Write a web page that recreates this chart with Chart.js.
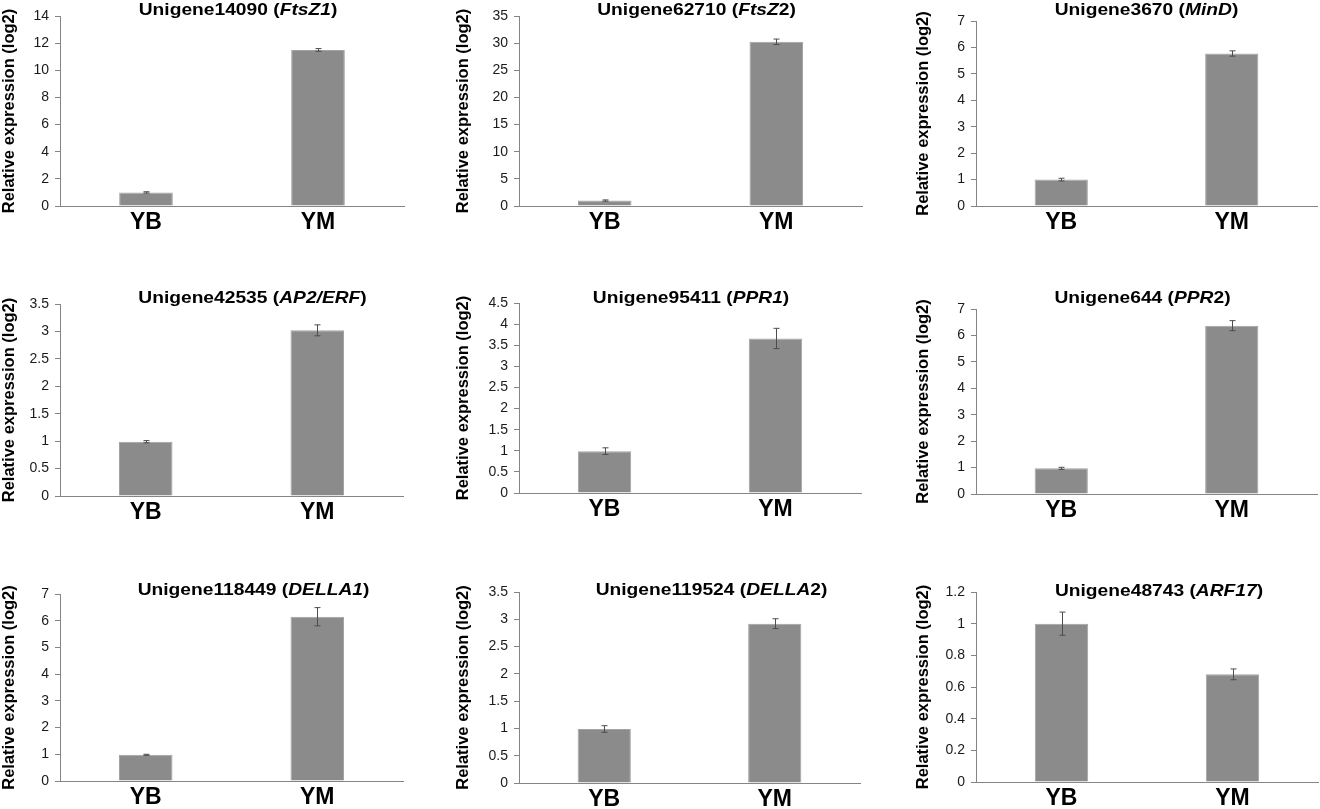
<!DOCTYPE html>
<html>
<head>
<meta charset="utf-8">
<script src="https://cdn.jsdelivr.net/npm/chart.js@4.4.0/dist/chart.umd.min.js"></script>
<style>
  html, body { margin: 0; padding: 0; background: #ffffff; }
  body { width: 1320px; height: 809px; position: relative; overflow: hidden; }
  canvas { position: absolute; }
</style>
</head>
<body>
<script>
// ---------------- DATA ----------------
const categories = ['YB', 'YM'];
const geneIds = ['Unigene14090', 'Unigene62710', 'Unigene3670', 'Unigene42535', 'Unigene95411', 'Unigene644', 'Unigene118449', 'Unigene119524', 'Unigene48743'];
const geneItalic = ['FtsZ1', 'FtsZ', 'MinD', 'AP2/ERF', 'PPR1', 'PPR', 'DELLA1', 'DELLA', 'ARF17'];
const geneSuffix = ['', '2', '', '', '', '2', '', '2', ''];
const valuesYB = [1.0, 1.0, 1.0, 0.99, 0.99, 0.97, 0.98, 0.99, 1.0];
const valuesYM = [11.5, 30.25, 5.77, 3.02, 3.66, 6.37, 6.15, 2.92, 0.68];
const errorsYB = [0.05, 0.12, 0.05, 0.02, 0.08, 0.04, 0.02, 0.06, 0.073];
const errorsYM = [0.1, 0.5, 0.1, 0.1, 0.24, 0.19, 0.34, 0.09, 0.034];
const yMax = [14, 35, 7, 3.5, 4.5, 7, 7, 3.5, 1.2];
const yStep = [2, 5, 1, 0.5, 0.5, 1, 1, 0.5, 0.2];
const yAxisTitle = 'Relative expression (log2)';

// ---------------- LAYOUT (positions only) ----------------
const colLeft = [0, 440, 880];
const colWidth = 440;
const rowTop = [0, 280, 565];
const rowHeight = [240, 250, 244];
const plotBox = [
  {l: 60,  t: 16,  b: 206, r: 404, tdx: 6,  ty: 15,  ytx: 9},
  {l: 519, t: 16,  b: 206, r: 862, tdx: 6,  ty: 15,  ytx: 463},
  {l: 976, t: 21,  b: 206, r: 1317, tdx: 0, ty: 15,  ytx: 923},
  {l: 60,  t: 304, b: 496, r: 403, tdx: 21, ty: 303, ytx: 9},
  {l: 519, t: 303, b: 493, r: 861, tdx: 1,  ty: 303, ytx: 463},
  {l: 976, t: 309, b: 494, r: 1317, tdx: -4, ty: 303, ytx: 923},
  {l: 60,  t: 594, b: 781, r: 403, tdx: 22, ty: 595, ytx: 9},
  {l: 519, t: 592, b: 783, r: 860, tdx: 22, ty: 595, ytx: 463},
  {l: 976, t: 592, b: 782, r: 1318, tdx: 12, ty: 596, ytx: 923}
];

const FONT = '"Liberation Sans", Arial, Helvetica, sans-serif';
const AXIS_COLOR = '#858585';
const BAR_COLOR = '#8b8b8b';

const errorBarPlugin = {
  id: 'errorBars',
  afterDatasetsDraw(chart, args, opts) {
    const ctx = chart.ctx;
    const meta = chart.getDatasetMeta(0);
    const ys = chart.scales.y;
    ctx.save();
    ctx.strokeStyle = '#4d4d4d';
    ctx.lineWidth = 1;
    meta.data.forEach((bar, i) => {
      const v = chart.data.datasets[0].data[i];
      const e = opts.errors[i];
      const x = Math.round(bar.x) + 0.5;
      const y1 = ys.getPixelForValue(v + e);
      const y2 = ys.getPixelForValue(v - e);
      ctx.beginPath();
      ctx.moveTo(x, y1); ctx.lineTo(x, y2);
      ctx.moveTo(x - 3, y1); ctx.lineTo(x + 3, y1);
      ctx.moveTo(x - 3, y2); ctx.lineTo(x + 3, y2);
      ctx.stroke();
    });
    ctx.restore();
  }
};

const titlePlugin = {
  id: 'panelTitles',
  afterDraw(chart, args, opts) {
    const ctx = chart.ctx;
    const ca = chart.chartArea;
    ctx.save();
    const normalFont = 'bold 17px ' + FONT;
    const italicFont = 'italic bold 17px ' + FONT;
    const segs = [
      {t: opts.id + ' (', f: normalFont},
      {t: opts.italic, f: italicFont},
      {t: opts.suffix + ')', f: normalFont}
    ];
    let total = 0;
    segs.forEach(s => { ctx.font = s.f; s.w = ctx.measureText(s.t).width; total += s.w; });
    const sx = 1.13;
    const cx = (ca.left + ca.right) / 2 + opts.dx;
    ctx.translate(cx, opts.y);
    ctx.scale(sx, 1);
    ctx.fillStyle = '#000';
    ctx.textBaseline = 'alphabetic';
    ctx.textAlign = 'left';
    let x = -total / 2;
    segs.forEach(s => { ctx.font = s.f; ctx.fillText(s.t, x, 0); x += s.w; });
    ctx.restore();

    ctx.save();
    ctx.translate(opts.ytx, (ca.top + ca.bottom) / 2);
    ctx.rotate(-Math.PI / 2);
    ctx.font = 'bold 16.5px ' + FONT;
    ctx.fillStyle = '#000';
    ctx.textAlign = 'center';
    ctx.textBaseline = 'middle';
    ctx.fillText(yAxisTitle, 0, 0);
    ctx.restore();
  }
};

for (let i = 0; i < 9; i++) {
  const col = i % 3, row = Math.floor(i / 3);
  const cl = colLeft[col], ct = rowTop[row];
  const cw = (col === 2) ? 1320 - cl : colWidth;
  const chh = rowHeight[row];
  const pb = plotBox[i];

  const cv = document.createElement('canvas');
  cv.width = cw; cv.height = chh;
  cv.style.left = cl + 'px'; cv.style.top = ct + 'px';
  cv.style.width = cw + 'px'; cv.style.height = chh + 'px';
  document.body.appendChild(cv);

  const yAxisW = pb.l - cl;
  const xAxisH = (ct + chh) - pb.b;

  new Chart(cv.getContext('2d'), {
    type: 'bar',
    data: {
      labels: categories,
      datasets: [{
        data: [valuesYB[i], valuesYM[i]],
        backgroundColor: BAR_COLOR,
        borderColor: '#a3a3a3',
        borderWidth: 1,
        categoryPercentage: 1.0,
        barPercentage: 0.312
      }]
    },
    options: {
      responsive: false,
      animation: false,
      devicePixelRatio: 1,
      layout: { padding: { top: pb.t - ct, right: (cl + cw) - pb.r, left: 0, bottom: 0 } },
      plugins: {
        legend: { display: false },
        tooltip: { enabled: false },
        title: { display: false },
        errorBars: { errors: [errorsYB[i], errorsYM[i]] },
        panelTitles: { id: geneIds[i], italic: geneItalic[i], suffix: geneSuffix[i], dx: pb.tdx, y: pb.ty - ct, ytx: pb.ytx - cl }
      },
      scales: {
        x: {
          grid: { display: false, drawTicks: false },
          border: { display: true, color: AXIS_COLOR, width: 1 },
          ticks: { font: { family: FONT, size: 23, weight: 'bold' }, color: '#000', padding: 3 },
          afterFit(scale) { scale.height = xAxisH; }
        },
        y: {
          min: 0,
          max: yMax[i],
          ticks: {
            stepSize: yStep[i],
            font: { family: FONT, size: 14 },
            color: '#1a1a1a',
            padding: 6,
            callback: (v) => String(Number(Number(v).toFixed(2)))
          },
          grid: { display: true, drawOnChartArea: false, drawTicks: true, tickLength: 5, color: AXIS_COLOR },
          border: { display: true, color: AXIS_COLOR, width: 1 },
          afterFit(scale) { scale.width = yAxisW; }
        }
      }
    },
    plugins: [errorBarPlugin, titlePlugin]
  });
}
</script>
</body>
</html>
